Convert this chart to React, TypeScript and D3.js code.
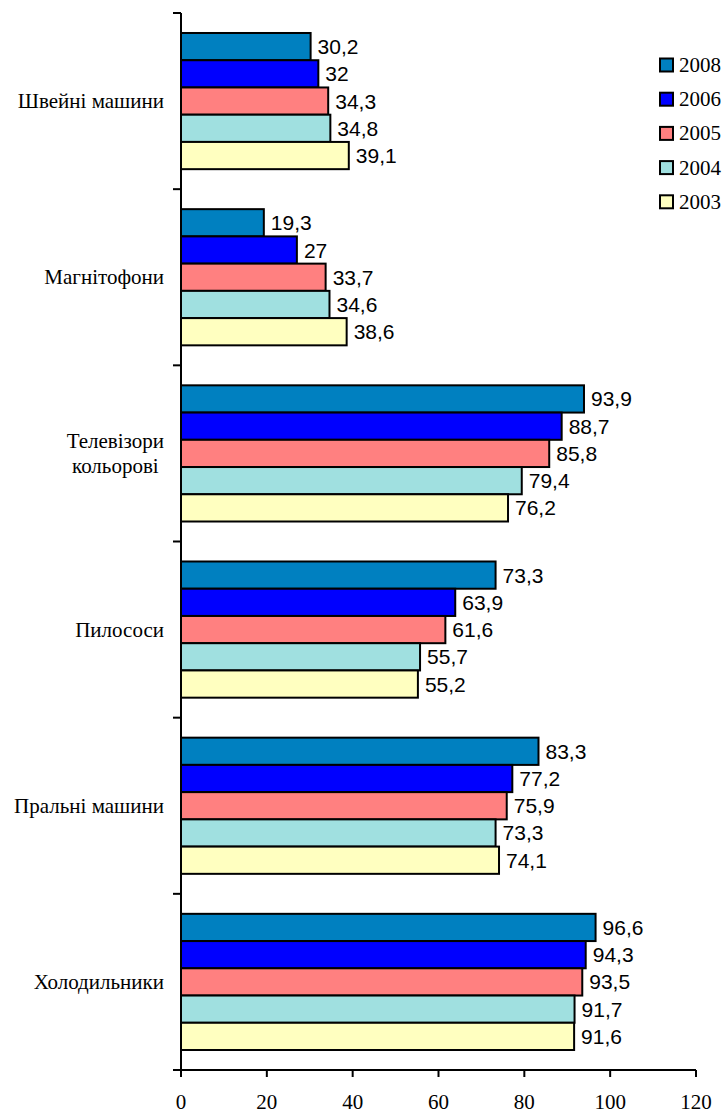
import React from "react";
import * as d3 from "d3";

const categories = [
    "Швейні машини",
    "Магнітофони",
    "Телевізори кольорові",
    "Пилососи",
    "Пральні машини",
    "Холодильники",
];

const years = ["2008", "2006", "2005", "2004", "2003"];

const v2008 = [30.2, 19.3, 93.9, 73.3, 83.3, 96.6];
const v2006 = [32, 27, 88.7, 63.9, 77.2, 94.3];
const v2005 = [34.3, 33.7, 85.8, 61.6, 75.9, 93.5];
const v2004 = [34.8, 34.6, 79.4, 55.7, 73.3, 91.7];
const v2003 = [39.1, 38.6, 76.2, 55.2, 74.1, 91.6];

const seriesValues = [v2008, v2006, v2005, v2004, v2003];
const colors = ["#0080C0", "#0000FF", "#FF8080", "#A0E0E0", "#FFFFC0"];
const xTicks = [0, 20, 40, 60, 80, 100, 120];

const WIDTH = 722;
const HEIGHT = 1113;

export default function App() {
    const svgRef = React.useRef<SVGSVGElement | null>(null);

    React.useEffect(() => {
        if (!svgRef.current) return;
        const svg = d3.select(svgRef.current);
        svg.selectAll("*").remove();

        const x = d3.scaleLinear().domain([0, 120]).range([181, 696]);
        const y = d3.scaleBand<string>()
            .domain(categories)
            .range([13, 1070])
            .paddingInner(0.227)
            .paddingOuter(0.1135);
        const yInner = d3.scaleBand<string>()
            .domain(years)
            .range([0, y.bandwidth()]);

        const serif = "'Liberation Serif', 'Times New Roman', serif";
        const sans = "'Liberation Sans', Arial, sans-serif";

        // bars
        categories.forEach((cat, ci) => {
            const g = svg.append("g").attr("transform", `translate(0,${y(cat)})`);
            years.forEach((yr, si) => {
                const v = seriesValues[si][ci];
                g.append("rect")
                    .attr("x", x(0))
                    .attr("y", yInner(yr)!)
                    .attr("width", x(v) - x(0))
                    .attr("height", yInner.bandwidth())
                    .attr("fill", colors[si])
                    .attr("stroke", "#000")
                    .attr("stroke-width", 2);
                g.append("text")
                    .attr("x", x(v) + 7)
                    .attr("y", yInner(yr)! + yInner.bandwidth() / 2)
                    .attr("dominant-baseline", "central")
                    .style("font-family", sans)
                    .style("font-size", "21px")
                    .text(String(v).replace(".", ","));
            });
        });

        // y axis
        const yEdges = categories.map(c => y(c)! - (y.step() - y.bandwidth()) / 2);
        yEdges.push(1070);
        svg.append("line")
            .attr("x1", x(0)).attr("x2", x(0))
            .attr("y1", 13).attr("y2", 1070)
            .attr("stroke", "#000").attr("stroke-width", 2);
        svg.selectAll(".ytick")
            .data(yEdges)
            .enter()
            .append("line")
            .attr("x1", x(0) - 8).attr("x2", x(0))
            .attr("y1", d => d).attr("y2", d => d)
            .attr("stroke", "#000").attr("stroke-width", 2);

        // category labels
        categories.forEach(cat => {
            const cy = y(cat)! + y.bandwidth() / 2;
            const words = cat.split(" ");
            const lines = cat === "Телевізори кольорові" ? words : [cat];
            const t = svg.append("text")
                .style("font-family", serif)
                .style("font-size", "21px")
                .attr("dominant-baseline", "central");
            const spans = lines.map((ln, i) =>
                t.append("tspan")
                    .attr("y", cy + (i - (lines.length - 1) / 2) * 25)
                    .text(ln)
            );
            if (lines.length === 1) {
                t.attr("text-anchor", "end");
                spans[0].attr("x", 164);
            } else {
                const w = Math.max(...spans.map(s => (s.node() as SVGTSpanElement).getComputedTextLength()));
                t.attr("text-anchor", "middle");
                spans.forEach(s => s.attr("x", 164 - w / 2));
            }
        });

        // x axis
        svg.append("line")
            .attr("x1", x(0) - 8).attr("x2", x(120))
            .attr("y1", 1070).attr("y2", 1070)
            .attr("stroke", "#000").attr("stroke-width", 2);
        const xt = svg.selectAll(".xtick")
            .data(xTicks)
            .enter()
            .append("g")
            .attr("transform", d => `translate(${x(d)},1070)`);
        xt.append("line")
            .attr("y1", 0).attr("y2", 7)
            .attr("stroke", "#000").attr("stroke-width", 2);
        xt.append("text")
            .attr("y", 32)
            .attr("text-anchor", "middle")
            .attr("dominant-baseline", "central")
            .style("font-family", serif)
            .style("font-size", "21px")
            .text(d => String(d));

        // legend
        const lg = svg.selectAll(".legend")
            .data(years)
            .enter()
            .append("g")
            .attr("transform", (_, i) => `translate(660,${65 + i * 34.2})`);
        lg.append("rect")
            .attr("x", 0).attr("y", -6.5)
            .attr("width", 13).attr("height", 13)
            .attr("fill", (_, i) => colors[i])
            .attr("stroke", "#000").attr("stroke-width", 2);
        lg.append("text")
            .attr("x", 19)
            .attr("y", 0)
            .attr("dominant-baseline", "central")
            .style("font-family", serif)
            .style("font-size", "21px")
            .text(d => d);
    }, []);

    return (
        <svg
            ref={svgRef}
            width={WIDTH}
            height={HEIGHT}
            style={{ position: "absolute", left: 0, top: 0, background: "#fff" }}
        />
    );
}
